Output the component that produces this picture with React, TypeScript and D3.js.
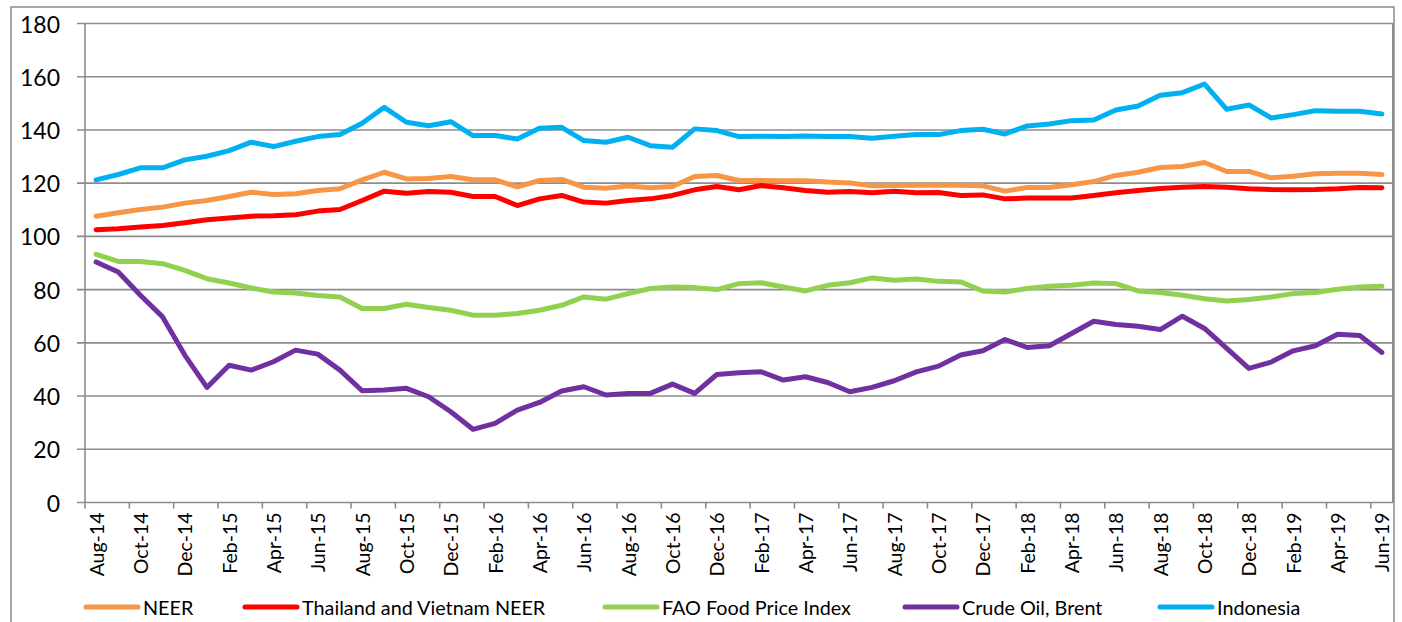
import React from 'react';
import { line, range, scaleBand, scaleLinear, timeFormat, timeMonth } from 'd3';

// Aug-14 .. Jun-19, monthly
const months: string[] = timeMonth
  .range(new Date(2014, 7, 1), new Date(2019, 6, 1))
  .map(d => timeFormat('%b-%y')(d));

const yTicks = [0, 20, 40, 60, 80, 100, 120, 140, 160, 180];

const neer = [
  107.6, 108.9, 110.1, 111, 112.5, 113.5, 115, 116.6, 115.75, 116, 117.25, 117.9, 121.25, 124.1,
  121.6, 121.75, 122.5, 121.25, 121.25, 118.6, 121, 121.4, 118.5, 118.1, 118.9, 118.25, 118.75,
  122.5, 122.9, 121, 121, 120.9, 120.9, 120.4, 120.1, 119, 119.1, 119.25, 119.25, 119.25, 119, 117,
  118.4, 118.4, 119.4, 120.6, 122.9, 124.1, 125.9, 126.25, 127.75, 124.4, 124.4, 122, 122.6, 123.5,
  123.75, 123.75, 123.25,
];
const thaiVietNeer = [
  102.5, 102.9, 103.5, 104.1, 105.1, 106.25, 106.9, 107.6, 107.75, 108.1, 109.5, 110.1, 113.5, 117,
  116.25, 116.9, 116.6, 115, 115, 111.6, 114.1, 115.4, 112.9, 112.5, 113.5, 114.1, 115.4, 117.5,
  118.75, 117.5, 119.1, 118.25, 117.25, 116.6, 116.9, 116.4, 117, 116.4, 116.5, 115.4, 115.6, 114.1,
  114.4, 114.4, 114.4, 115.4, 116.4, 117.25, 118, 118.5, 118.75, 118.5, 117.9, 117.6, 117.5, 117.6,
  117.9, 118.4, 118.25,
];
const faoFood = [
  93.25, 90.6, 90.6, 89.75, 87.25, 84.1, 82.5, 80.6, 79.1, 78.75, 77.75, 77.25, 72.9, 72.9, 74.5,
  73.25, 72.25, 70.4, 70.4, 71, 72.25, 74.1, 77.25, 76.4, 78.5, 80.4, 81, 80.75, 80, 82.25, 82.6, 81,
  79.5, 81.6, 82.6, 84.4, 83.5, 84, 83.1, 82.9, 79.5, 79.1, 80.4, 81.25, 81.6, 82.5, 82.25, 79.5,
  78.9, 77.9, 76.6, 75.75, 76.25, 77.25, 78.5, 78.9, 80.1, 81, 81.25,
];
const brent = [
  90.4, 86.6, 77.9, 69.75, 55.4, 43.25, 51.6, 49.75, 52.9, 57.25, 55.75, 49.75, 42, 42.25, 42.9,
  39.75, 34.1, 27.5, 29.75, 34.75, 37.6, 41.9, 43.5, 40.4, 41, 41, 44.5, 41, 48.1, 48.75, 49.1, 46,
  47.25, 45.1, 41.6, 43.25, 45.75, 49.1, 51.25, 55.4, 57, 61.25, 58.25, 58.9, 63.5, 68.1, 66.9,
  66.25, 65, 70, 65.4, 57.9, 50.4, 52.75, 57, 58.9, 63.25, 62.75, 56.4,
];
const indonesia = [
  121.25, 123.25, 125.75, 125.75, 128.75, 130.1, 132.25, 135.4, 133.75, 135.75, 137.5, 138.25,
  142.5, 148.5, 142.9, 141.6, 143.1, 137.9, 137.9, 136.6, 140.6, 141, 136, 135.4, 137.25, 134.1,
  133.5, 140.4, 139.75, 137.5, 137.6, 137.5, 137.75, 137.5, 137.5, 136.9, 137.6, 138.25, 138.25,
  139.75, 140.25, 138.5, 141.5, 142.25, 143.5, 143.75, 147.5, 149, 153, 154, 157.25, 147.75, 149.4,
  144.5, 145.75, 147.25, 147, 147, 146,
];

const series = [
  { name: 'NEER', color: '#F79646', values: neer },
  { name: 'Thailand and Vietnam NEER', color: '#FF0000', values: thaiVietNeer },
  { name: 'FAO Food Price Index', color: '#92D050', values: faoFood },
  { name: 'Crude Oil, Brent', color: '#7030A0', values: brent },
  { name: 'Indonesia', color: '#00B0F0', values: indonesia },
];

const W = 1402;
const H = 622;
const plot = { left: 85, right: 1393, top: 23.5, bottom: 502.5 };
const legendX = [86, 245, 605, 905, 1160];
const font = 'Lato, "Liberation Sans", sans-serif';
const gridColor = '#8c8c8c';

export default function App() {
  const x = scaleBand<string>().domain(months).range([plot.left, plot.right]).padding(0);
  const y = scaleLinear().domain([0, 180]).range([plot.bottom, plot.top]);
  const cx = (i: number) => (x(months[i]) as number) + x.bandwidth() / 2;

  const path = line<number>()
    .x((d, i) => cx(i))
    .y(d => y(d));

  const tickIdx = range(0, months.length, 2);

  return (
    <svg
      width={W}
      height={H}
      style={{ position: 'absolute', left: 0, top: 0, background: '#fff' }}
    >
      <rect x={11} y={7} width={1383} height={700} fill="#fff" stroke="#8a8a8a" strokeWidth={1.5} />

      {/* gridlines + y axis */}
      {yTicks.map(t => (
        <g key={t}>
          <line x1={plot.left - 8} x2={plot.right} y1={y(t)} y2={y(t)} stroke={gridColor} strokeWidth={1.6} />
          <text
            x={60}
            y={y(t)}
            textAnchor="end"
            dominantBaseline="central"
            fontFamily={font}
            fontSize={23}
            fill="#000"
          >
            {t}
          </text>
        </g>
      ))}
      <line x1={plot.left} x2={plot.left} y1={plot.top} y2={plot.bottom} stroke={gridColor} strokeWidth={1.6} />
      <line x1={plot.right} x2={plot.right} y1={plot.top} y2={plot.bottom} stroke={gridColor} strokeWidth={2} />

      {/* x axis ticks and labels */}
      {tickIdx.map(i => (
        <line
          key={'t' + i}
          x1={x(months[i]) as number}
          x2={x(months[i]) as number}
          y1={plot.bottom}
          y2={plot.bottom + 6}
          stroke={gridColor}
          strokeWidth={1.6}
        />
      ))}
      {tickIdx.map(i => (
        <text
          key={'l' + i}
          transform={`translate(${cx(i)},${plot.bottom + 10}) rotate(-90)`}
          textAnchor="end"
          dominantBaseline="central"
          fontFamily={font}
          fontSize={19.5}
          fill="#000"
        >
          {months[i]}
        </text>
      ))}

      {/* lines */}
      {series.map(s => (
        <path
          key={s.name}
          d={path(s.values) || ''}
          fill="none"
          stroke={s.color}
          strokeWidth={5}
          strokeLinejoin="round"
          strokeLinecap="round"
        />
      ))}

      {/* legend */}
      {series.map((s, i) => (
        <g key={'lg' + s.name} transform={`translate(${legendX[i]},607)`}>
          <line x1={0} x2={52} y1={0} y2={0} stroke={s.color} strokeWidth={5} strokeLinecap="round" />
          <text x={57} y={0} dominantBaseline="central" fontFamily={font} fontSize={19.8} fill="#000">
            {s.name}
          </text>
        </g>
      ))}
    </svg>
  );
}
